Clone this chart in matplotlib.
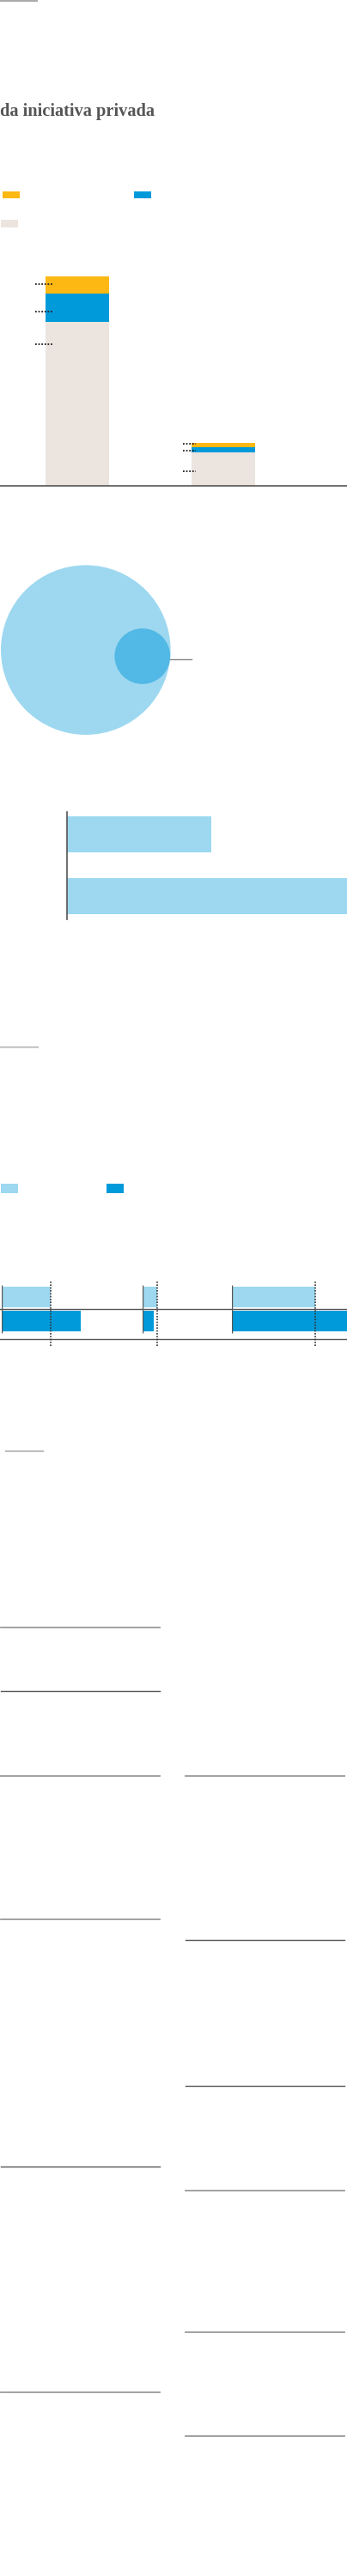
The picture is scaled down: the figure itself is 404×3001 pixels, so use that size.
import numpy as np
import matplotlib
matplotlib.use("Agg")
import matplotlib.pyplot as plt
from matplotlib.patches import Rectangle, Circle

W, H = 404, 3001

# --- data -------------------------------------------------------------
title = "da iniciativa privada"

# stacked columns (two groups)
stack_beige = [191, 39]
stack_blue = [33, 6]
stack_yellow = [20, 5.3]
leader_y = [[234.7, 202.7, 165], [49, 40.7, 17]]

# circles (area proportional)
circle_values = [100, 10.75]

# horizontal bars
hbar_values = [168, 340]

# three small panels: light and dark bar per panel
panel_light = [57.6, 17, 96.7]
panel_dark = [92.6, 13.3, 150]

YELLOW = "#fdb813"
BLUE = "#009ada"
BEIGE = "#ece4de"
LIGHT = "#9dd8f0"
MID = "#52b8e5"
DARK = "#555555"
GRAY = "#9a9a9a"


def box(x0, y0, x1, y1):
    return [x0 / W, 1 - y1 / H, (x1 - x0) / W, (y1 - y0) / H]


fig = plt.figure(figsize=(W / 100, H / 100), dpi=100)

# background layer in pixel units for rules, swatches and text
bg = fig.add_axes([0, 0, 1, 1])
bg.set_xlim(0, W)
bg.set_ylim(H, 0)
bg.axis("off")

bg.plot([0, 43], [1, 1], color="#aaaaaa", lw=1.5)
bg.text(0, 135, title, fontsize=14.7, fontweight="bold",
        family=["Liberation Serif", "DejaVu Serif"], color=DARK, va="baseline")

for x, y, c in [(2.7, 222.7, YELLOW), (156, 222.7, BLUE), (1, 256, BEIGE)]:
    bg.add_patch(Rectangle((x, y), 19.8, 8.6, color=c, lw=0))

bg.plot([0, 44], [1220, 1220], color="#c8c8c8", lw=1.6)
for x, c in [(1, LIGHT), (124, BLUE)]:
    bg.add_patch(Rectangle((x, 1379.3), 19.5, 10.7, color=c, lw=0))

bg.plot([0, W], [1525.3, 1525.3], color=DARK, lw=1)
bg.plot([0, W], [1560.3, 1560.3], color=DARK, lw=1)
bg.plot([6, 50], [1690.3, 1690.3], color=GRAY, lw=1)

# column rules at the bottom
left_rules = [(1895.7, GRAY), (1970.4, DARK), (2068.6, GRAY), (2235.7, GRAY),
              (2524.4, DARK), (2787.4, GRAY)]
right_rules = [(2068.6, GRAY), (2260.4, DARK), (2430.4, DARK), (2552, GRAY),
               (2716.6, GRAY), (2837.9, GRAY)]
for y, c in left_rules:
    bg.plot([1, 186], [y, y], color=c, lw=1.3 if c == GRAY else 1)
for y, c in right_rules:
    bg.plot([216, 401], [y, y], color=c, lw=1.3 if c == GRAY else 1)

# --- stacked columns ---------------------------------------------------
ax1 = fig.add_axes(box(0, 300, 404, 566))
x = np.arange(2)
ax1.bar(x, stack_beige, width=0.435, color=BEIGE, lw=0)
ax1.bar(x, stack_blue, width=0.435, bottom=stack_beige, color=BLUE, lw=0)
ax1.bar(x, stack_yellow, width=0.435,
        bottom=np.add(stack_beige, stack_blue), color=YELLOW, lw=0)
for i, ys in enumerate(leader_y):
    x0 = i - 0.288 if i == 0 else i - 0.276
    x1 = i - 0.165 if i == 0 else i - 0.188
    ax1.hlines(ys, x0, x1, color="#222222", lw=1.3, linestyles=(0, (1, 1)))
ax1.axhline(0, color=DARK, lw=1.2, clip_on=False)
ax1.set_xlim(-0.529, 1.847)
ax1.set_ylim(0, 266)
ax1.axis("off")

# --- circles ------------------------------------------------------------
ax2 = fig.add_axes(box(0, 640, 404, 880))
k = 9.88
radii = [np.sqrt(v) * k for v in circle_values]
R, r = radii
ang = np.deg2rad(-6.3)
cx, cy = 1 + R, 0
ax2.add_patch(Circle((cx, cy), R, color=LIGHT, lw=0))
sx = cx + (R - r) * np.cos(ang)
sy = cy + (R - r) * np.sin(ang)
ax2.add_patch(Circle((sx, sy), r, color=MID, lw=0))
tx, ty = cx + R * np.cos(ang), cy + R * np.sin(ang)
ax2.plot([tx, tx + 25], [ty, ty], color="#888888", lw=1)
ax2.set_xlim(0, 404)
ax2.set_ylim(cy - (880 - 757.2), cy + (757.2 - 640))
ax2.axis("off")

# --- horizontal bars -----------------------------------------------------
ax3 = fig.add_axes(box(78.3, 946, 404, 1070.7))
ax3.barh([0, 1], hbar_values, height=0.579, color=LIGHT, lw=0)
ax3.set_xlim(0, 325.7)
ax3.set_ylim(1.364, -0.356)
for s in ["top", "right", "bottom"]:
    ax3.spines[s].set_visible(False)
ax3.spines["left"].set_color(DARK)
ax3.spines["left"].set_linewidth(1.2)
ax3.set_xticks([])
ax3.set_yticks([])
ax3.patch.set_alpha(0)

# --- three small panels -------------------------------------------------
edges = [1.7, 165.7, 270.3, 404]
for i in range(3):
    ax = fig.add_axes(box(edges[i], 1492, edges[i + 1], 1568))
    ax.barh([0, 1], [panel_light[i], panel_dark[i]], height=0.86,
            color=[LIGHT, BLUE], lw=0)
    ax.vlines(0, -0.512, 1.47, color=DARK, lw=1)
    ax.axvline(panel_light[i], color="#333333", lw=1.2, ls=(0, (1, 1)))
    ax.set_xlim(0, edges[i + 1] - edges[i])
    ax.set_ylim(2.02, -0.683)
    ax.axis("off")

fig.savefig("out.png", dpi=100)
